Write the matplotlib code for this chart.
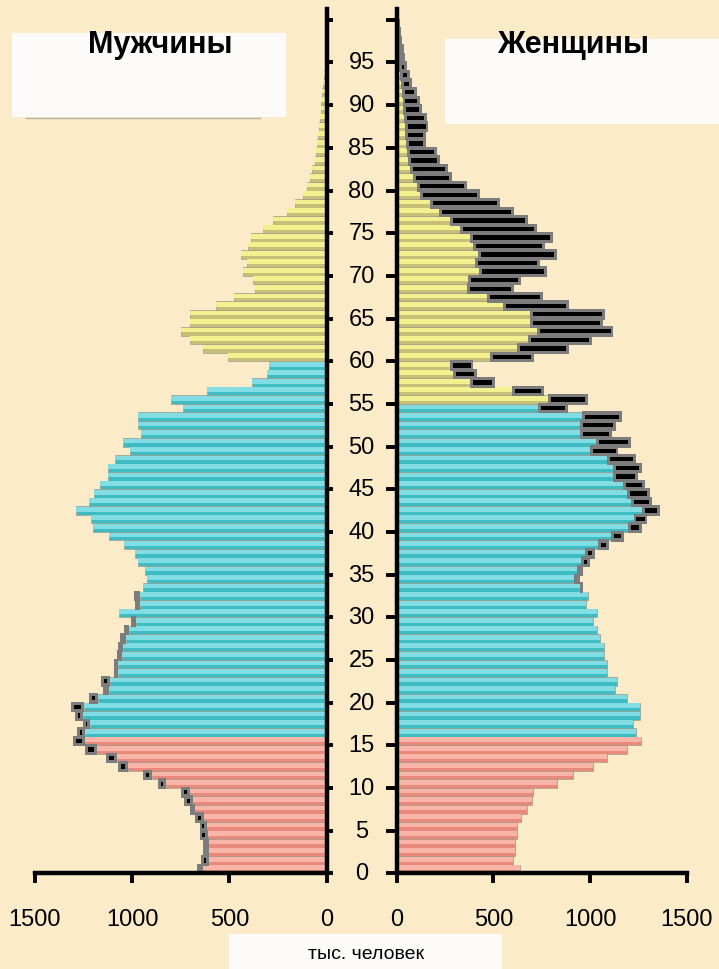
import numpy as np
import matplotlib.pyplot as plt
from matplotlib.patches import Rectangle
from matplotlib.lines import Line2D

plt.rcParams['font.family'] = ['Liberation Sans', 'DejaVu Sans']

# ---------------- data (thousand persons) ----------------
ages = np.arange(101)

men_main = [638, 604, 604, 604, 609, 614, 631, 677, 686, 703,
            828, 900, 1020, 1080, 1183, 1243, 1243, 1217, 1255, 1250,
            1175, 1120, 1115, 1075, 1071, 1055, 1049, 1032, 1015, 980,
            1066, 960, 960, 946, 922, 934, 969, 986, 1042, 1118,
            1200, 1213, 1289, 1220, 1195, 1166, 1126, 1126, 1088, 1011,
            1046, 956, 969, 969, 740, 802, 614, 386, 308, 295,
            506, 634, 703, 751, 703, 703, 571, 477, 369, 380,
            429, 408, 442, 403, 391, 326, 274, 202, 163, 120,
            103, 86, 77, 60, 55, 51, 43, 38, 34, 31,
            28, 24, 18, 12, 8, 6, 4, 3, 2, 1, 1]

men_extra = [30, 40, 32, 32, 45, 40, 45, 28, 48, 45,
             38, 45, 55, 55, 60, 62, 40, 38, 38, 65,
             45, 30, 45, 20, 25, 25, 25, 30, 25, 25,
             0, 25, 30] + [0] * 68

women_main = [638, 600, 612, 612, 621, 621, 641, 676, 698, 707,
              828, 914, 1017, 1086, 1190, 1262, 1238, 1224, 1259, 1259,
              1190, 1129, 1141, 1086, 1086, 1072, 1072, 1052, 1035, 1014,
              1038, 979, 991, 948, 918, 935, 955, 975, 1040, 1110,
              1195, 1225, 1270, 1210, 1190, 1172, 1117, 1117, 1090, 1000,
              1030, 950, 950, 957, 730, 784, 595, 379, 293, 276,
              483, 621, 681, 724, 690, 690, 552, 466, 365, 370,
              425, 405, 422, 396, 379, 327, 276, 220, 172, 121,
              103, 86, 69, 60, 52, 48, 45, 42, 38, 34,
              30, 26, 22, 17, 14, 10, 8, 6, 4, 3, 2]

women_extra = [0] * 33 + [15, 30, 30, 45, 50, 60, 65,
               75, 72, 92, 110, 118, 113, 133, 151, 148, 147,
               181, 162, 185, 207, 158, 207, 167, 130, 121, 121,
               228, 272, 328, 397, 376, 388, 341, 290, 242, 272,
               351, 337, 406, 371, 431, 397, 405, 387, 363, 310,
               259, 199, 198, 164, 155, 104, 107, 122, 117, 96,
               91, 78, 56, 52, 38, 33, 28, 22, 18, 14, 10]

age_ticks = list(range(0, 101, 5))
age_labels = [str(a) for a in range(0, 96, 5)]
x_ticks = [0, 500, 1000, 1500]
x_labels = ['0', '500', '1000', '1500']

men_cyan_from, men_yellow_from = 16, 60
women_cyan_from, women_yellow_from = 16, 55

# ---------------- styling ----------------
BG = '#FBEBC9'
PINK = ('#E8897C', '#F9B6A8')
CYAN = ('#3DBDC3', '#82DCE3')
YELL = ('#C7BF78', '#F2F08F')
W, H, DPI = 719, 970, 100


def group_colors(cyan_from, yellow_from):
    dark, light = [], []
    for a in ages:
        pal = PINK if a < cyan_from else (CYAN if a < yellow_from else YELL)
        dark.append(pal[0])
        light.append(pal[1])
    return dark, light


fig = plt.figure(figsize=(W / DPI, H / DPI), dpi=DPI, facecolor=BG)

bottom = 1 - 874.3 / H
top_age = 101.3
height = (top_age * 8.535) / H
ax_m = fig.add_axes([35 / W, bottom, (326.7 - 35) / W, height])
ax_w = fig.add_axes([396.7 / W, bottom, (686.7 - 396.7) / W, height])

inset = 15
for ax, main, extra, cf, yf in [(ax_m, men_main, men_extra, men_cyan_from, men_yellow_from),
                                 (ax_w, women_main, women_extra, women_cyan_from, women_yellow_from)]:
    ax.set_facecolor('none')
    dark, light = group_colors(cf, yf)
    y = ages + 0.5
    ax.barh(y, main, height=1.0, color=dark, edgecolor='#A39C8C', linewidth=0.5, zorder=2)
    ax.barh(y + 0.15, main, height=0.55, color=light, linewidth=0, zorder=2.1)
    ext = np.array(extra, dtype=float)
    m = ext > 0
    ax.barh(y[m], ext[m], left=np.array(main)[m], height=1.25, color='#7C7C7C',
            linewidth=0, zorder=3)
    core = np.clip(ext - 2 * inset, 0, None)
    m2 = core > 0
    ax.barh(y[m2], core[m2], left=np.array(main)[m2] + inset, height=0.5, color='black',
            linewidth=0, zorder=4)
    ax.set_ylim(0, top_age)
    ax.set_yticks(age_ticks)
    ax.set_yticklabels([])
    ax.set_xticks(x_ticks)
    ax.set_xticklabels(x_labels, fontsize=17)
    ax.tick_params(axis='x', direction='out', length=7, width=2.8, pad=18, colors='black')
    ax.spines['top'].set_visible(False)
    for s in ax.spines.values():
        s.set_linewidth(3.2)
        s.set_zorder(5)

ax_m.set_xlim(1500, 0)
ax_m.spines['left'].set_visible(False)
ax_m.yaxis.tick_right()
ax_m.tick_params(axis='y', direction='out', length=4, width=2.8)

ax_w.set_xlim(0, 1500)
ax_w.spines['right'].set_visible(False)
ax_w.tick_params(axis='y', direction='out', length=8, width=2.8)

# age labels between the two halves
xc = (361.5 - 396.7) / (686.7 - 396.7)
for a, lab in zip(age_ticks, age_labels):
    ax_w.text(xc, a, lab, transform=ax_w.get_yaxis_transform(), ha='center', va='center',
              fontsize=17, clip_on=False)


def fig_rect(x0, y0, x1, y1, color):
    fig.add_artist(Rectangle((x0 / W, 1 - y1 / H), (x1 - x0) / W, (y1 - y0) / H,
                             transform=fig.transFigure, facecolor=color, edgecolor='none',
                             zorder=6))


fig_rect(12, 34, 286, 118, '#FCFBF9')
fig.add_artist(Line2D([26 / W, 260 / W], [1 - 118.5 / H] * 2, transform=fig.transFigure,
                      color='#B5B0A8', linewidth=1, zorder=6))
fig_rect(445, 40, 719, 125, '#FCFBF9')
fig_rect(229, 935, 502, 970, '#FCFBF9')

fig.text(160 / W, 1 - 45 / H, 'Мужчины', ha='center', va='center', fontsize=22,
         fontweight='bold', zorder=7)
fig.text(573 / W, 1 - 45 / H, 'Женщины', ha='center', va='center', fontsize=22,
         fontweight='bold', zorder=7)
fig.text(366 / W, 1 - 955 / H, 'тыс. человек', ha='center', va='center', fontsize=14,
         zorder=7)

fig.savefig('out.png', dpi=DPI, facecolor=BG)
